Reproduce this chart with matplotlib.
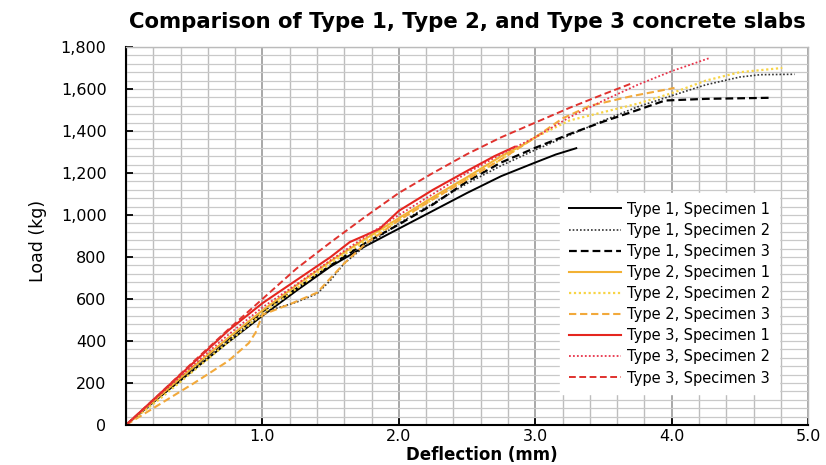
import matplotlib
matplotlib.use("Agg")
from matplotlib import pyplot as plt
from matplotlib.ticker import FixedLocator, MultipleLocator, FuncFormatter

# Type 1
t1s1_x = [0, 0.25, 0.5, 0.75, 1.0, 1.25, 1.5, 1.75, 2.0, 2.25, 2.5, 2.75, 3.0, 3.15, 3.3]
t1s1_y = [0, 135, 265, 395, 520, 640, 755, 850, 935, 1020, 1105, 1185, 1250, 1288, 1318]
t1s2_x = [0, 0.25, 0.5, 0.75, 1.0, 1.1, 1.25, 1.4, 1.5, 1.6, 1.75, 2.0, 2.25, 2.5, 2.75,
          3.0, 3.25, 3.5, 3.75, 4.0, 4.25, 4.5, 4.65, 4.9]
t1s2_y = [0, 140, 275, 405, 530, 555, 585, 625, 690, 770, 850, 960, 1055, 1150, 1235,
          1310, 1380, 1450, 1515, 1568, 1620, 1657, 1668, 1670]
t1s3_x = [0, 0.25, 0.5, 0.75, 1.0, 1.25, 1.5, 1.75, 2.0, 2.25, 2.5, 2.75, 3.0, 3.25,
          3.5, 3.75, 3.95, 4.25, 4.72]
t1s3_y = [0, 140, 280, 410, 540, 650, 760, 865, 955, 1050, 1160, 1250, 1320, 1385,
          1445, 1500, 1545, 1553, 1558]

# Type 2
t2s1_x = [0, 0.25, 0.5, 0.75, 1.0, 1.25, 1.5, 1.75, 2.0, 2.25, 2.5, 2.75, 2.9, 3.05]
t2s1_y = [0, 140, 280, 415, 545, 665, 780, 885, 985, 1085, 1180, 1280, 1330, 1390]
t2s2_x = [0, 0.25, 0.5, 0.75, 1.0, 1.25, 1.5, 1.75, 2.0, 2.25, 2.5, 2.75, 3.0, 3.25,
          3.5, 3.75, 4.0, 4.25, 4.5, 4.81]
t2s2_y = [0, 125, 260, 395, 530, 650, 770, 875, 975, 1075, 1170, 1265, 1370, 1450,
          1490, 1530, 1580, 1640, 1680, 1700]
t2s3_x = [0, 0.25, 0.5, 0.75, 0.9, 0.95, 1.0, 1.2, 1.4, 1.6, 1.75, 2.0, 2.25, 2.5,
          2.75, 3.0, 3.2, 3.4, 3.7, 4.02]
t2s3_y = [0, 100, 200, 305, 390, 440, 525, 575, 630, 770, 860, 975, 1075, 1170,
          1265, 1370, 1460, 1520, 1565, 1605]

# Type 3
t3s1_x = [0, 0.25, 0.5, 0.75, 1.0, 1.25, 1.5, 1.64, 1.76, 1.86, 2.0, 2.25, 2.5, 2.7, 2.85]
t3s1_y = [0, 150, 300, 450, 580, 690, 800, 871, 905, 935, 1020, 1120, 1210, 1280, 1325]
t3s2_x = [0, 0.25, 0.5, 0.75, 1.0, 1.25, 1.5, 1.75, 2.0, 2.25, 2.5, 2.75, 3.0, 3.25,
          3.5, 3.75, 4.0, 4.28]
t3s2_y = [0, 145, 290, 430, 560, 670, 785, 895, 1000, 1100, 1200, 1290, 1370, 1465,
          1545, 1620, 1685, 1748]
t3s3_x = [0, 0.25, 0.5, 0.75, 1.0, 1.25, 1.5, 1.75, 2.0, 2.25, 2.5, 2.75, 3.0, 3.25,
          3.5, 3.7]
t3s3_y = [0, 150, 305, 455, 600, 745, 870, 990, 1105, 1200, 1290, 1370, 1440, 1510,
          1575, 1625]

fig = plt.figure(figsize=(8.26, 4.65), dpi=100)
ax = fig.add_axes([0.1525, 0.086, 0.826, 0.813])

ax.plot(t1s1_x, t1s1_y, color="black", lw=1.4, ls="-", label="Type 1, Specimen 1")
ax.plot(t1s2_x, t1s2_y, color="#333333", lw=1.2, ls=(0, (1, 1.2)), label="Type 1, Specimen 2")
ax.plot(t1s3_x, t1s3_y, color="black", lw=1.6, ls=(0, (3.5, 1.8)), label="Type 1, Specimen 3")
ax.plot(t2s1_x, t2s1_y, color="#F2B134", lw=1.5, ls="-", label="Type 2, Specimen 1")
ax.plot(t2s2_x, t2s2_y, color="#F7D446", lw=1.6, ls=(0, (1, 1.2)), label="Type 2, Specimen 2")
ax.plot(t2s3_x, t2s3_y, color="#F2A93B", lw=1.5, ls=(0, (3.5, 1.8)), label="Type 2, Specimen 3")
ax.plot(t3s1_x, t3s1_y, color="#E5261F", lw=1.5, ls="-", label="Type 3, Specimen 1")
ax.plot(t3s2_x, t3s2_y, color="#E8334A", lw=1.3, ls=(0, (1, 1.2)), label="Type 3, Specimen 2")
ax.plot(t3s3_x, t3s3_y, color="#E0322E", lw=1.4, ls=(0, (3.5, 1.8)), label="Type 3, Specimen 3")

ax.set_xlim(0, 5)
ax.set_ylim(0, 1800)

# grid
ax.xaxis.set_major_locator(FixedLocator([1, 2, 3, 4, 5]))
ax.xaxis.set_minor_locator(MultipleLocator(0.2))
ax.yaxis.set_major_locator(MultipleLocator(200))
ax.yaxis.set_minor_locator(MultipleLocator(40))
ax.grid(which="minor", axis="x", color="#BDBDBD", lw=1.0)
ax.grid(which="major", axis="x", color="#999999", lw=1.2)
ax.grid(which="both", axis="y", color="#C9C9C9", lw=0.9)
ax.set_axisbelow(True)

ax.xaxis.set_major_formatter(FuncFormatter(lambda v, p: "%.1f" % v))
ax.yaxis.set_major_formatter(FuncFormatter(lambda v, p: "{:,}".format(int(v))))
ax.tick_params(which="major", direction="in", length=5, width=1.3, labelsize=11.5)
ax.tick_params(which="minor", length=0)
ax.tick_params(axis="y", pad=14)
ax.tick_params(axis="x", pad=3)

for s in ["left", "bottom"]:
    ax.spines[s].set_color("black")
    ax.spines[s].set_linewidth(1.5)
for s in ["top", "right"]:
    ax.spines[s].set_color("#BBBBBB")
    ax.spines[s].set_linewidth(1.0)

leg = ax.legend(loc="lower right", bbox_to_anchor=(0.968, 0.062), fontsize=10.5,
                handlelength=3.6, labelspacing=0.42, frameon=True, fancybox=False,
                borderpad=0.6, handletextpad=0.4)
leg.get_frame().set_facecolor("white")
leg.get_frame().set_edgecolor("white")
leg.get_frame().set_alpha(1)

fig.text(0.566, 0.952, "Comparison of Type 1, Type 2, and Type 3 concrete slabs",
         ha="center", va="center", fontsize=15.3, fontweight="bold", family="DejaVu Sans")
fig.text(0.046, 0.482, "Load (kg)", rotation=90, ha="center", va="center",
         fontsize=12.5, family=["Liberation Sans Narrow", "DejaVu Sans"])
fig.text(0.583, 0.022, "Deflection (mm)", ha="center", va="center",
         fontsize=12, fontweight="bold", family="DejaVu Sans")

fig.savefig("out.png", dpi=100)
